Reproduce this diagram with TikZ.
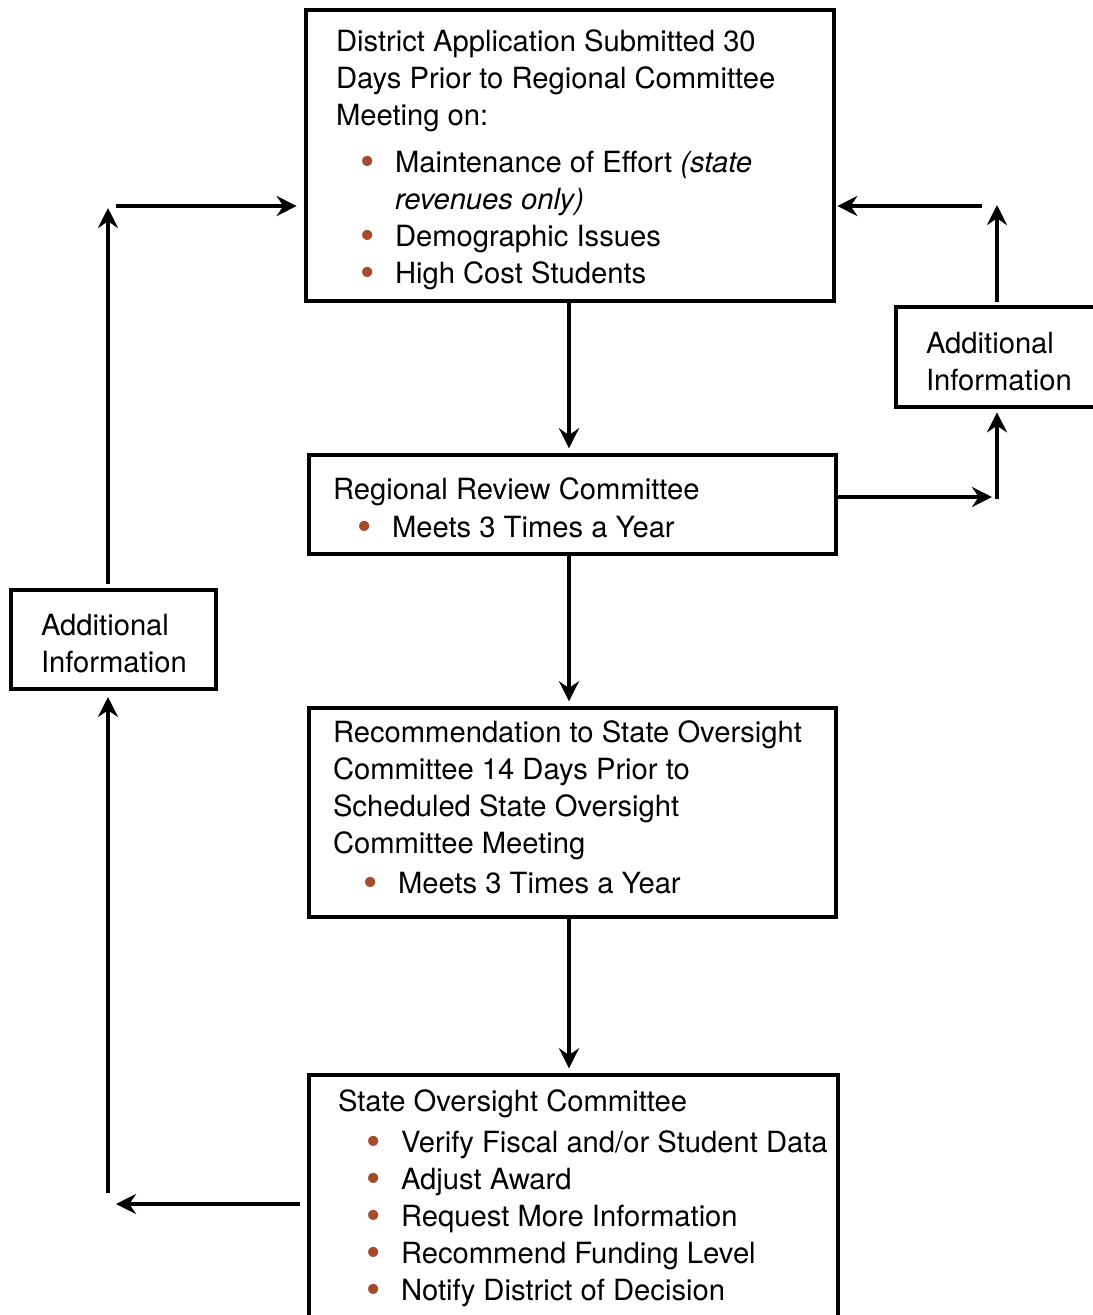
\documentclass[tikz,border=0pt]{standalone}
\usepackage{fontspec}
\setmainfont{TeX Gyre Heros}
\usetikzlibrary{arrows.meta,fit}
\definecolor{bulletc}{RGB}{165,76,44}
\newcommand{\bigbul}{\raisebox{-2.8pt}{\scalebox{1.4}{•}}}
\begin{document}
\begin{tikzpicture}[x=0.75pt,y=-0.75pt,
  every node/.style={inner sep=0pt,outer sep=0pt},
  box/.style={draw,line width=3pt,fit={#1},inner sep=0pt},
  txt/.style={anchor=base west,font=\fontsize{21.9}{27}\selectfont},
  bul/.style={anchor=base west,font=\fontsize{21.9}{27}\selectfont,text=bulletc},
  arr/.style={line width=3pt,-{Stealth[length=15pt,width=15pt,inset=5pt]}}]
\clip (0,0) rectangle (1093,1315);
\fill[white] (0,0) rectangle (1093,1315);
% boxes
\node[box={(306,10) (834,301)}] (b1) {};
\node[box={(309,455) (836,554)}] (b2) {};
\node[box={(309,708) (836,917)}] (b3) {};
\node[box={(309,1075) (838,1340)}] (b4) {};
\node[box={(896,307) (1110,407)}] (aiR) {};
\node[box={(11,590) (216,689)}] (aiL) {};
% box 1 text
\node[txt] (t11) at (336,51) {District Application Submitted 30};
\node[txt] (t12) at (336,88) {Days Prior to Regional Committee};
\node[txt] (t13) at (336,125) {Meeting on:};
\node[bul] (u11) at (360,172) {\bigbul};
\node[txt] (t14) at (395,172) {Maintenance of Effort \textit{(state}};
\node[txt] (t15) at (395,209) {\textit{revenues only)}};
\node[bul] (u12) at (360,246) {\bigbul};
\node[txt] (t16) at (395,246) {Demographic Issues};
\node[bul] (u13) at (360,283) {\bigbul};
\node[txt] (t17) at (395,283) {High Cost Students};
% box 2 text
\node[txt] (t21) at (333,499) {Regional Review Committee};
\node[bul] (u21) at (357,537) {\bigbul};
\node[txt] (t22) at (392,537) {Meets 3 Times a Year};
% box 3 text
\node[txt] (t31) at (333,742) {Recommendation to State Oversight};
\node[txt] (t32) at (333,779) {Committee 14 Days Prior to};
\node[txt] (t33) at (333,816) {Scheduled State Oversight};
\node[txt] (t34) at (333,853) {Committee Meeting};
\node[bul] (u31) at (363,893) {\bigbul};
\node[txt] (t35) at (398,893) {Meets 3 Times a Year};
% box 4 text
\node[txt] (t41) at (338,1111) {State Oversight Committee};
\node[bul] (u41) at (366,1152) {\bigbul};
\node[txt] (t42) at (401,1152) {Verify Fiscal and/or Student Data};
\node[bul] (u42) at (366,1189) {\bigbul};
\node[txt] (t43) at (401,1189) {Adjust Award};
\node[bul] (u43) at (366,1226) {\bigbul};
\node[txt] (t44) at (401,1226) {Request More Information};
\node[bul] (u44) at (366,1263) {\bigbul};
\node[txt] (t45) at (401,1263) {Recommend Funding Level};
\node[bul] (u45) at (366,1300) {\bigbul};
\node[txt] (t46) at (401,1300) {Notify District of Decision};
% additional info text
\node[txt] (tr1) at (926,353) {Additional};
\node[txt] (tr2) at (926,390) {Information};
\node[txt] (tl1) at (41,635) {Additional};
\node[txt] (tl2) at (41,672) {Information};
% connector coordinates
\coordinate (cx) at (569,0);
\coordinate (rA) at (992,497);
\coordinate (rB) at (997,499);
\coordinate (rC) at (997,205);
\coordinate (rD) at (982,206);
\coordinate (lA) at (116,1204);
\coordinate (lB) at (108,1193);
\coordinate (lC) at (108,208);
\coordinate (lD) at (116,206);
% main flow
\draw[arr,shorten >=5pt] (b1.south -| cx) -- (b2.north -| cx);
\draw[arr,shorten >=5pt] (b2.south -| cx) -- (b3.north -| cx);
\draw[arr,shorten >=5pt] (b3.south -| cx) -- (b4.north -| cx);
% right loop
\draw[arr] (b2.east |- rA) -- (rA);
\draw[arr,shorten >=4pt] (rB) -- (aiR.south -| rB);
\draw[arr,shorten <=4pt] (aiR.north -| rB) -- (rC);
\draw[arr,shorten >=2.5pt] (rD) -- (b1.east |- rD);
% left loop
\draw[arr,shorten <=7pt] (b4.west |- lA) -- (lA);
\draw[arr,shorten >=6pt] (lB) -- (aiL.south -| lB);
\draw[arr,shorten <=4.5pt] (aiL.north -| lB) -- (lC);
\draw[arr,shorten >=7pt] (lD) -- (b1.west |- lD);
\end{tikzpicture}
\end{document}
